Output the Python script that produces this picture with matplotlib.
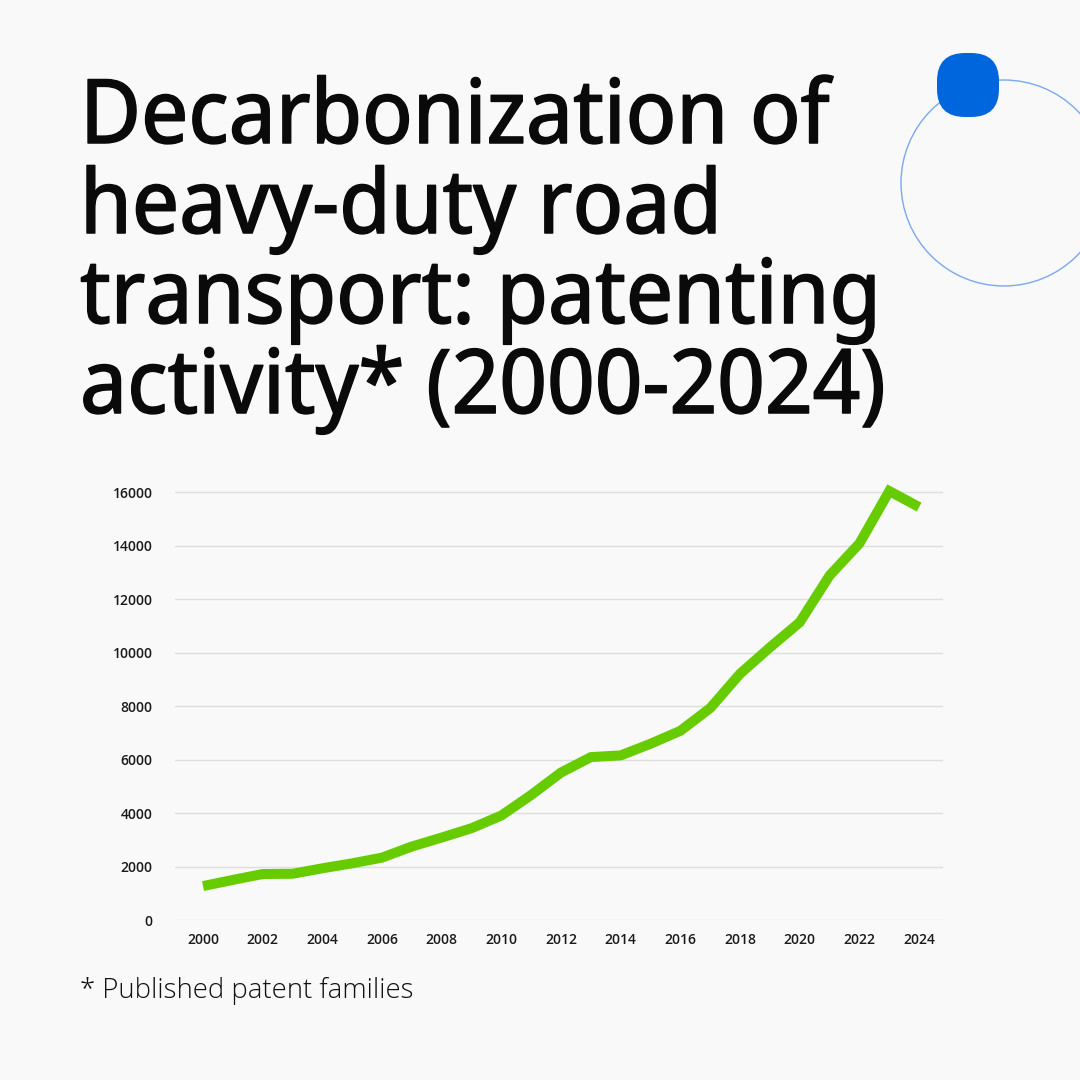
import matplotlib
matplotlib.use("Agg")
import matplotlib.pyplot as plt
import matplotlib.patheffects as pe
from matplotlib.patches import Circle, FancyBboxPatch

years = list(range(2000, 2025))
patent_families = [1270, 1500, 1720, 1730, 1935, 2120, 2335, 2750, 3085, 3435,
                   3910, 4680, 5520, 6095, 6160, 6595, 7080, 7930, 9215, 10200,
                   11140, 12890, 14090, 16050, 15450]
y_ticks = [0, 2000, 4000, 6000, 8000, 10000, 12000, 14000, 16000]
x_ticks = list(range(2000, 2025, 2))
title_lines = ["Decarbonization of", "heavy-duty road", "transport: patenting", "activity* (2000-2024)"]
footnote = "* Published patent families"

BG = "#f9f9f9"
W = 1080
fig = plt.figure(figsize=(10.8, 10.8), dpi=100, facecolor=BG)

deco = fig.add_axes([0, 0, 1, 1], facecolor="none")
deco.set_xlim(0, W)
deco.set_ylim(W, 0)
deco.axis("off")
deco.add_patch(Circle((1004, 183), 103, fill=False, edgecolor="#7aa8f2", linewidth=1.0))
deco.add_patch(FancyBboxPatch((946, 62), 44, 46, boxstyle="round,pad=9,rounding_size=28",
                              facecolor="#0066dd", edgecolor="none", zorder=3))

baselines = [143, 233, 323, 413]
for line, yb in zip(title_lines, baselines):
    fig.text(80 / W, 1 - yb / W, line, fontsize=64, family="Noto Sans Display",
             va="baseline", ha="left", color="#0a0a0a",
             path_effects=[pe.withStroke(linewidth=1.1, foreground="#0a0a0a")])
fig.text(80 / W, 1 - 998 / W, footnote, fontsize=19.8, family="Open Sans",
         fontweight=300, va="baseline", ha="left", color="#111111")

ax = fig.add_axes([175 / W, 160 / W, 768 / W, (920 - 471) / W], facecolor=BG)
ax.plot(years, patent_families, color="#66cc00", linewidth=7.2, solid_joinstyle="miter",
        solid_capstyle="butt", zorder=3, clip_on=False)
ax.set_ylim(0, 16800)
ax.set_xlim(2000 - 0.94, 2024 + 0.8)
ax.set_yticks(y_ticks)
ax.set_xticks(x_ticks)
ax.set_yticklabels([str(v) for v in y_ticks])
ax.set_xticklabels([str(v) for v in x_ticks])
ax.grid(axis="y", color="#dedede", linewidth=1.0)
ax.grid(axis="x", visible=False)
for s in ax.spines.values():
    s.set_visible(False)
ax.tick_params(length=0, labelsize=10, labelcolor="#1a1a1a")
ax.tick_params(axis="y", pad=16)
ax.tick_params(axis="x", pad=9)
for lab in ax.get_xticklabels() + ax.get_yticklabels():
    lab.set_family("Open Sans")
    lab.set_fontweight(600)

fig.savefig("out.png", dpi=100, facecolor=BG)
